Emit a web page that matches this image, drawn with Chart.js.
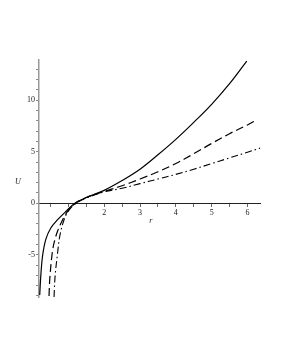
<!DOCTYPE html>
<html>
<head>
<meta charset="utf-8">
<script src="https://cdn.jsdelivr.net/npm/chart.js@4/dist/chart.umd.min.js"></script>
<style>
  html, body { margin: 0; padding: 0; background: #fff; }
  #chart { display: block; }
</style>
</head>
<body>
<canvas id="chart" width="281" height="363"></canvas>
<script>
// curva continua
const rSolid = [0.20, 0.23, 0.28, 0.37, 0.51, 0.70, 0.93, 1.18, 1.5, 2.0, 2.5, 3.0, 3.5, 4.0, 4.5, 5.0, 5.5, 5.98];
const uSolid = [-8.9, -7.05, -5.1, -3.5, -2.4, -1.6, -0.8, 0, 0.55, 1.25, 2.2, 3.3, 4.7, 6.2, 7.85, 9.6, 11.6, 13.8];

// curva a trazos
const rDashed = [0.46, 0.48, 0.54, 0.60, 0.70, 0.84, 0.98, 1.20, 1.5, 2.0, 2.5, 3.0, 3.5, 4.0, 4.5, 5.0, 5.5, 6.0, 6.21];
const uDashed = [-9.0, -7.4, -5.1, -3.85, -2.7, -1.6, -0.8, 0, 0.55, 1.15, 1.7, 2.35, 3.05, 3.85, 4.8, 5.8, 6.75, 7.6, 8.0];

// curva trazo-punto
const rDashDot = [0.60, 0.63, 0.70, 0.76, 0.88, 1.02, 1.22, 1.5, 2.0, 2.5, 3.0, 3.5, 4.0, 4.5, 5.0, 5.5, 6.0, 6.35];
const uDashDot = [-9.1, -7.05, -4.8, -3.2, -1.6, -0.65, 0, 0.5, 1.1, 1.45, 1.9, 2.35, 2.8, 3.3, 3.85, 4.4, 4.95, 5.35];

// marcas de los ejes
const xTicks = [0.5, 1, 1.5, 2, 2.5, 3, 3.5, 4, 4.5, 5, 5.5, 6];
const xLabels = [2, 3, 4, 5, 6];
const yTicks = [-9, -8, -7, -6, -5, -4, -3, -2, -1, 0, 1, 2, 3, 4, 5, 6, 7, 8, 9, 10, 11, 12, 13];
const yLabels = [-5, 0, 5, 10];

const FONT = '"Liberation Serif", "DejaVu Serif", serif';

function toPoints(xs, ys) {
  return xs.map((x, i) => ({ x, y: ys[i] }));
}

function curve(xs, ys, dash, width) {
  return {
    data: toPoints(xs, ys),
    showLine: true,
    borderColor: "#000",
    borderWidth: width,
    borderDash: dash,
    pointRadius: 0,
    tension: 0.35,
    fill: false,
  };
}

// titulos de ejes en cursiva (U, r)
const axisTitles = {
  id: "axisTitles",
  afterDraw(chart) {
    const { ctx, scales } = chart;
    ctx.save();
    ctx.font = "italic 8px " + FONT;
    ctx.fillStyle = "#222";
    ctx.textAlign = "center";
    ctx.textBaseline = "middle";
    ctx.fillText("U", 18, scales.y.getPixelForValue(2.1));
    ctx.fillText("r", scales.x.getPixelForValue(3.3), scales.y.getPixelForValue(0) + 18);
    ctx.restore();
  },
};

new Chart(document.getElementById("chart"), {
  type: "scatter",
  data: {
    datasets: [
      curve(rSolid, uSolid, [], 1.2),
      curve(rDashed, uDashed, [8, 4], 1.2),
      curve(rDashDot, uDashDot, [7, 3, 1.5, 3], 1.1),
    ],
  },
  options: {
    responsive: false,
    animation: false,
    layout: { padding: { left: 0, top: 60, right: 21, bottom: 66 } },
    plugins: { legend: { display: false }, tooltip: { enabled: false } },
    scales: {
      x: {
        type: "linear",
        min: 0.18,
        max: 6.35,
        position: { y: 0 },
        afterFit: (s) => { s.height = 0; },
        afterBuildTicks: (s) => { s.ticks = xTicks.map((v) => ({ value: v })); },
        border: { display: true, color: "#222", width: 1 },
        grid: { drawOnChartArea: false, drawTicks: true, tickLength: 3, color: "#666" },
        ticks: {
          autoSkip: false,
          maxRotation: 0,
          padding: 2,
          color: "#222",
          font: { family: FONT, size: 8 },
          callback: (v) => (xLabels.includes(v) ? String(v) : ""),
        },
      },
      y: {
        type: "linear",
        min: -9.1,
        max: 13.9,
        afterFit: (s) => { s.width = 39; },
        afterBuildTicks: (s) => { s.ticks = yTicks.map((v) => ({ value: v })); },
        border: { display: true, color: "#999", width: 1.5 },
        grid: { drawOnChartArea: false, drawTicks: true, tickLength: 3, color: "#888" },
        ticks: {
          autoSkip: false,
          padding: 1,
          color: "#222",
          font: { family: FONT, size: 8 },
          callback: (v) => (yLabels.includes(v) ? String(v) : ""),
        },
      },
    },
  },
  plugins: [axisTitles],
});
</script>
</body>
</html>
